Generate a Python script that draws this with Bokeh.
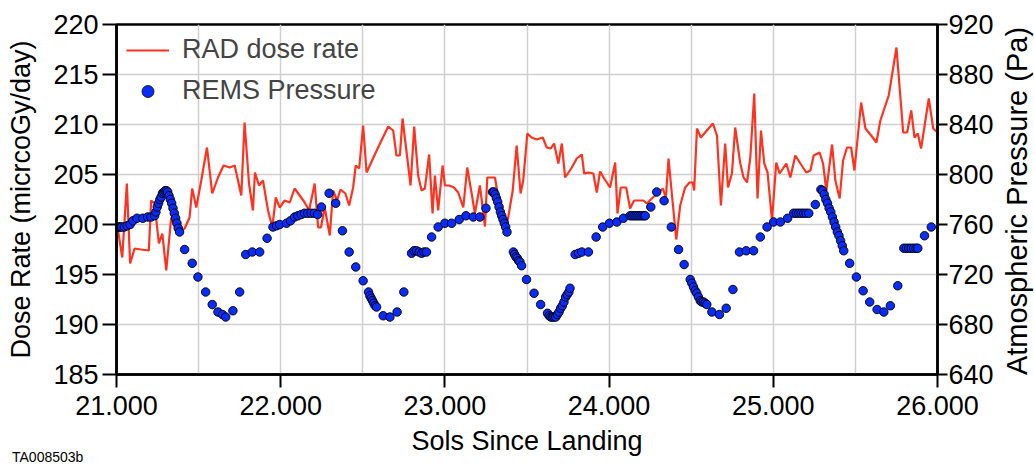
import math
from bokeh.plotting import figure
from bokeh.models import (Range1d, LinearAxis, FixedTicker, PrintfTickFormatter,
                          Legend, LegendItem)
from bokeh.embed import file_html
from bokeh.resources import INLINE

# ---------------- data ----------------
rad_sol = [21.000, 21.035, 21.063, 21.083, 21.110, 21.150, 21.197, 21.211, 21.232, 21.258,
           21.279, 21.303, 21.333, 21.360, 21.384, 21.415, 21.445, 21.461, 21.486, 21.516,
           21.551, 21.583, 21.618, 21.652, 21.689, 21.720, 21.760, 21.780, 21.807, 21.831,
           21.843, 21.868, 21.892, 21.923, 21.949, 21.970, 21.994, 22.024, 22.055, 22.085,
           22.116, 22.146, 22.173, 22.207, 22.228, 22.245, 22.268, 22.299, 22.319, 22.343,
           22.364, 22.394, 22.417, 22.441, 22.457, 22.478, 22.502, 22.523, 22.593, 22.655,
           22.685, 22.705, 22.726, 22.742, 22.791, 22.813, 22.837, 22.858, 22.878, 22.904,
           22.925, 22.939, 22.959, 22.986, 23.000, 23.026, 23.055, 23.081, 23.112, 23.136,
           23.163, 23.183, 23.213, 23.230, 23.244, 23.258, 23.305, 23.335, 23.372, 23.413,
           23.437, 23.461, 23.477, 23.502, 23.528, 23.559, 23.596, 23.620, 23.645, 23.665,
           23.691, 23.712, 23.732, 23.773, 23.803, 23.834, 23.848, 23.874, 23.904, 23.925,
           23.945, 23.970, 24.006, 24.037, 24.051, 24.071, 24.104, 24.128, 24.152, 24.179,
           24.209, 24.230, 24.260, 24.301, 24.327, 24.346, 24.362, 24.382, 24.409, 24.433,
           24.463, 24.490, 24.510, 24.518, 24.535, 24.559, 24.585, 24.632, 24.657, 24.681,
           24.707, 24.724, 24.748, 24.768, 24.799, 24.819, 24.840, 24.860, 24.884, 24.904,
           24.925, 24.945, 24.965, 24.992, 25.018, 25.038, 25.059, 25.079, 25.104, 25.134,
           25.165, 25.201, 25.226, 25.246, 25.282, 25.303, 25.323, 25.358, 25.378, 25.404,
           25.425, 25.449, 25.474, 25.494, 25.535, 25.561, 25.596, 25.628, 25.652, 25.703,
           25.750, 25.791, 25.815, 25.840, 25.860, 25.880, 25.900, 25.947, 25.974, 25.994]
rad_dose = [200.4, 196.7, 204.1, 196.1, 197.6, 197.5, 197.4, 202.4, 202.1, 198.1,
            199.1, 195.4, 200.7, 199.6, 199.2, 199.6, 200.7, 203.6, 201.7, 204.4,
            207.7, 203.1, 204.7, 205.9, 205.7, 205.9, 202.9, 210.2, 204.1, 201.4,
            205.2, 203.9, 204.4, 201.4, 199.7, 202.7, 201.7, 202.4, 202.2, 203.6,
            202.9, 202.2, 201.4, 204.1, 199.7, 199.7, 201.7, 198.9, 203.4, 202.4,
            203.5, 203.1, 201.9, 203.7, 205.9, 205.6, 209.9, 205.2, 207.7, 209.8,
            209.4, 206.9, 206.9, 210.6, 203.9, 209.8, 204.9, 203.4, 203.6, 207.0,
            201.1, 204.9, 201.4, 205.9, 203.9, 203.9, 203.7, 203.2, 201.7, 205.7,
            203.1, 201.1, 203.9, 201.7, 199.8, 204.7, 204.7, 201.7, 199.4, 203.4,
            207.9, 203.1, 204.4, 209.1, 208.7, 208.5, 208.7, 207.7, 207.6, 208.1,
            206.1, 208.1, 204.7, 205.7, 206.6, 207.0, 205.1, 205.2, 205.1, 203.2,
            205.3, 204.6, 203.7, 206.2, 201.1, 203.7, 203.7, 201.6, 202.4, 202.4,
            202.4, 202.1, 202.6, 203.2, 203.6, 202.7, 206.6, 203.1, 198.5, 201.9,
            203.7, 204.2, 204.2, 203.4, 209.6, 208.7, 209.2, 210.1, 208.9, 201.9,
            208.1, 203.7, 205.1, 209.7, 206.1, 204.7, 204.2, 206.7, 213.1, 202.6,
            209.4, 206.1, 205.2, 200.4, 206.2, 205.1, 205.6, 206.1, 204.7, 206.9,
            206.1, 205.2, 205.4, 206.9, 207.2, 206.1, 203.4, 208.0, 204.4, 202.6,
            206.4, 207.7, 207.7, 205.4, 212.2, 209.6, 208.9, 208.2, 210.4, 212.9,
            217.7, 209.2, 209.2, 211.4, 208.7, 209.1, 207.6, 212.6, 209.6, 209.3]

rems_sol = [21.000, 21.008, 21.016, 21.024, 21.032, 21.048, 21.065, 21.083, 21.100, 21.125,
            21.160, 21.190, 21.210, 21.232, 21.240, 21.248, 21.256, 21.264, 21.272, 21.280,
            21.288, 21.296, 21.304, 21.312, 21.320, 21.328, 21.336, 21.344, 21.352, 21.360,
            21.368, 21.376, 21.384, 21.415, 21.461, 21.496, 21.543, 21.583, 21.618, 21.645,
            21.665, 21.709, 21.750, 21.787, 21.827, 21.872, 21.917, 21.953, 21.975, 21.994,
            22.035, 22.060, 22.085, 22.105, 22.125, 22.145, 22.165, 22.185, 22.205, 22.225,
            22.248, 22.295, 22.335, 22.376, 22.417, 22.457, 22.502, 22.535, 22.543, 22.551,
            22.559, 22.567, 22.575, 22.584, 22.624, 22.665, 22.709, 22.750, 22.797, 22.812,
            22.827, 22.843, 22.858, 22.873, 22.888, 22.919, 22.959, 23.000, 23.041, 23.087,
            23.128, 23.173, 23.213, 23.250, 23.290, 23.298, 23.306, 23.314, 23.322, 23.330,
            23.338, 23.346, 23.354, 23.362, 23.370, 23.378, 23.417, 23.425, 23.433, 23.441,
            23.449, 23.457, 23.467, 23.497, 23.543, 23.583, 23.625, 23.635, 23.645, 23.655,
            23.665, 23.675, 23.685, 23.695, 23.705, 23.715, 23.725, 23.735, 23.745, 23.755,
            23.762, 23.793, 23.814, 23.834, 23.874, 23.921, 23.961, 24.002, 24.047, 24.087,
            24.128, 24.140, 24.152, 24.164, 24.176, 24.188, 24.200, 24.212, 24.220, 24.254,
            24.290, 24.335, 24.379, 24.423, 24.457, 24.494, 24.504, 24.514, 24.524, 24.534,
            24.544, 24.555, 24.565, 24.575, 24.585, 24.595, 24.626, 24.672, 24.713, 24.754,
            24.794, 24.835, 24.880, 24.921, 24.962, 25.002, 25.043, 25.087, 25.124, 25.140,
            25.155, 25.170, 25.185, 25.200, 25.216, 25.256, 25.290, 25.300, 25.310, 25.320,
            25.330, 25.340, 25.350, 25.360, 25.370, 25.380, 25.390, 25.400, 25.410, 25.420,
            25.429, 25.465, 25.506, 25.547, 25.587, 25.632, 25.673, 25.713, 25.758, 25.795,
            25.810, 25.825, 25.840, 25.855, 25.870, 25.880, 25.921, 25.962]
rems_pa = [758, 758, 758, 758, 758, 758, 759, 760, 763, 765,
           765, 766, 766, 767, 770, 774, 777, 780, 782, 785,
           786, 787, 787, 786, 783, 780, 777, 773, 769, 765,
           761, 757, 754, 740, 729, 718, 706, 696, 690, 688,
           686, 691, 706, 736, 738, 738, 749, 758, 759, 760,
           761, 763, 766, 767, 768, 769, 769, 769, 769, 768,
           774, 785, 777, 755, 738, 726, 715, 706, 703, 701,
           699, 697, 695, 694, 687, 686, 690, 706, 737, 739,
           739, 738, 737, 738, 738, 750, 758, 761, 761, 764,
           767, 766, 766, 773, 786, 786, 784, 781, 778, 774,
           770, 767, 764, 761, 758, 754, 738, 736, 734, 733,
           731, 730, 727, 716, 705, 696, 689, 687, 686, 686,
           686, 686, 688, 690, 693, 695, 698, 702, 704, 706,
           709, 736, 737, 738, 738, 750, 758, 761, 762, 765,
           767, 767, 767, 767, 767, 767, 767, 767, 767, 774,
           786, 779, 758, 740, 728, 716, 713, 710, 707, 705,
           702, 699, 698, 698, 697, 696, 690, 688, 693, 708,
           738, 739, 739, 750, 758, 762, 762, 765, 769, 769,
           769, 769, 769, 769, 769, 776, 788, 787, 784, 780,
           777, 773, 770, 766, 762, 758, 754, 751, 747, 743,
           739, 729, 718, 707, 698, 692, 690, 695, 711, 741,
           741, 741, 741, 741, 741, 741, 751, 758]

x_ticks = [21, 22, 23, 24, 25, 26]
x_grid = [21.5, 22, 22.5, 23, 23.5, 24, 24.5, 25, 25.5]
dose_ticks = [185, 190, 195, 200, 205, 210, 215, 220]
pa_ticks = [640, 680, 720, 760, 800, 840, 880, 920]
right_title = "Atmospheric Pressure (Pa)"
figure_id = "TA008503b"

# ---------------- figure ----------------
FONT = "Liberation Sans"
FS = "27px"
RED = "#ff3220"
BLUE = "#0a2cf8"

p = figure(width=1034, height=468, x_range=Range1d(21, 26), y_range=Range1d(185, 220),
           output_backend="svg", toolbar_location=None,
           min_border_left=116, min_border_right=97, min_border_top=24, min_border_bottom=94)
p.extra_y_ranges = {"pres": Range1d(640, 920)}
p.outline_line_color = "black"
p.outline_line_width = 2.5
p.background_fill_color = "white"

def style_axis(ax, tick_out=12, standoff=2):
    ax.axis_line_width = 2.5
    ax.axis_line_color = "black"
    ax.major_tick_line_width = 2
    ax.major_tick_line_color = "black"
    ax.major_tick_out = tick_out
    ax.major_tick_in = 0
    ax.minor_tick_line_color = None
    ax.major_label_text_font = FONT
    ax.major_label_text_font_size = FS
    ax.major_label_text_color = "black"
    ax.major_label_standoff = standoff
    ax.axis_label_text_font = FONT
    ax.axis_label_text_font_size = FS
    ax.axis_label_text_font_style = "normal"
    ax.axis_label_text_color = "black"

xa = p.xaxis[0]
xa.ticker = FixedTicker(ticks=x_ticks)
xa.formatter = PrintfTickFormatter(format="%.3f")
xa.axis_label = "Sols Since Landing"
style_axis(xa, tick_out=13, standoff=8)
xa.axis_label_standoff = 8

ya = p.yaxis[0]
ya.ticker = FixedTicker(ticks=dose_ticks)
ya.axis_label = "Dose Rate (micrcoGy/day)"
style_axis(ya, tick_out=14, standoff=4)
ya.axis_label_standoff = 14

ra = LinearAxis(y_range_name="pres", ticker=FixedTicker(ticks=pa_ticks))
style_axis(ra, tick_out=10, standoff=1)
p.add_layout(ra, "right")

p.xgrid.ticker = FixedTicker(ticks=x_grid)
for g in (p.xgrid[0], p.ygrid[0]):
    g.grid_line_color = "#cfcfcf"
    g.grid_line_width = 1.5

# ---------------- data glyphs ----------------
r_line = p.line(rad_sol, rad_dose, line_color=RED, line_width=2.2)
r_dots = p.scatter(rems_sol, rems_pa, y_range_name="pres", size=8.5,
                   fill_color=BLUE, line_color="black", line_width=0.9)
# legend swatch (a larger marker, as in the original legend); point lies outside the x range
r_leg = p.scatter(x=[0], y=[0], y_range_name="pres", size=13,
                  fill_color=BLUE, line_color="black", line_width=0.8)

legend = Legend(items=[LegendItem(label="RAD dose rate", renderers=[r_line]),
                       LegendItem(label="REMS Pressure", renderers=[r_leg])],
                location="top_left")
legend.background_fill_alpha = 0
legend.border_line_color = None
legend.label_text_font = FONT
legend.label_text_font_size = FS
legend.glyph_width = 43
legend.glyph_height = 30
legend.label_height = 30
legend.spacing = 10
legend.padding = 2
legend.margin = 10
legend.label_standoff = 13
p.add_layout(legend)

html = file_html(p, INLINE)
# right-axis title reading bottom-to-top, and the figure-id caption (outside the plot frame)
extra = (
    '<div style="position:absolute;left:1017px;top:201px;margin:0;white-space:nowrap;'
    'transform:translate(-50%%,-50%%) rotate(-90deg);'
    'font-family:\'Liberation Sans\',Arial,sans-serif;font-size:29px;line-height:1;'
    'color:#000;">%s</div>\n'
    '<div style="position:absolute;left:12px;top:450px;margin:0;'
    'font-family:\'Liberation Sans\',Arial,sans-serif;font-size:14px;'
    'line-height:1;color:#000;">%s</div>' % (right_title, figure_id))
html = html.replace("</body>", extra + "\n</body>")
open("out.html", "w").write(html)
